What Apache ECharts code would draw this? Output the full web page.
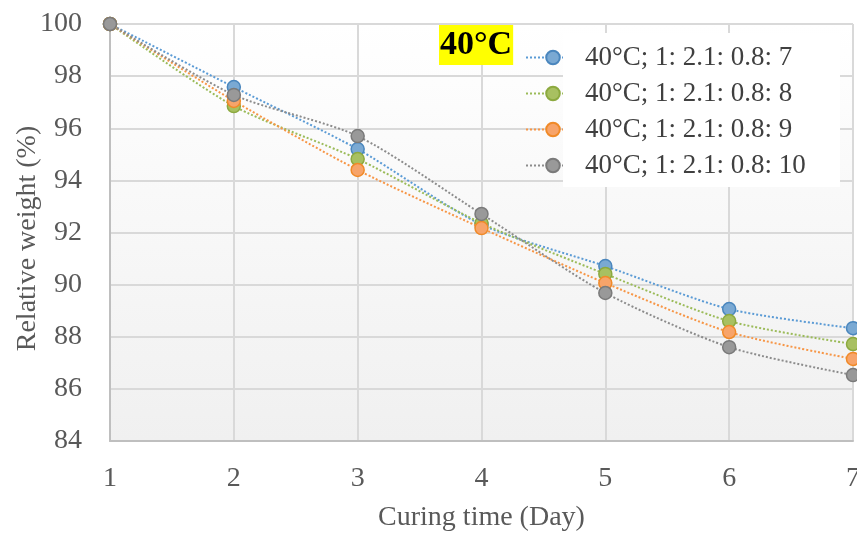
<!DOCTYPE html>
<html>
<head>
<meta charset="utf-8">
<script src="https://cdn.jsdelivr.net/npm/echarts@6/dist/echarts.min.js"></script>
<style>
  html, body { margin: 0; padding: 0; background: #fff; }
  #chart { width: 857px; height: 533px; }
</style>
</head>
<body>
<div id="chart"></div>
<script>
// Curing days on the x axis
const days = [1, 2, 3, 4, 5, 6, 7];

// Relative weight (%) per mix ratio at 40°C
const seriesNames = [
  '40°C; 1: 2.1: 0.8: 7',
  '40°C; 1: 2.1: 0.8: 8',
  '40°C; 1: 2.1: 0.8: 9',
  '40°C; 1: 2.1: 0.8: 10'
];
const ratio7  = [100, 97.58, 95.20, 92.30, 90.71, 89.06, 88.33];
const ratio8  = [100, 96.85, 94.82, 92.36, 90.41, 88.60, 87.72];
const ratio9  = [100, 97.05, 94.40, 92.17, 90.06, 88.18, 87.15];
const ratio10 = [100, 97.28, 95.70, 92.71, 89.68, 87.60, 86.53];

const yTicks = [84, 86, 88, 90, 92, 94, 96, 98, 100];

const serif = '"Liberation Serif", "DejaVu Serif", serif';
const styles = [
  { line: '#5b9bd5', fill: '#7aa9d3', border: '#4a86bd' },
  { line: '#9bbb59', fill: '#a8c061', border: '#8ca93f' },
  { line: '#f79646', fill: '#f7a46a', border: '#f08a28' },
  { line: '#8c8c8c', fill: '#999999', border: '#7a7a7a' }
];
const values = [ratio7, ratio8, ratio9, ratio10];

const chart = echarts.init(document.getElementById('chart'), null, { renderer: 'canvas' });

const series = seriesNames.map((name, i) => ({
  name,
  type: 'line',
  smooth: 0.25,
  data: days.map((d, j) => [d, values[i][j]]),
  symbol: 'circle',
  symbolSize: 13,
  z: 3 + i,
  lineStyle: { color: styles[i].line, width: 2, type: [2, 2] },
  itemStyle: { color: styles[i].fill, borderColor: styles[i].border, borderWidth: 1.5 }
}));

chart.setOption({
  animation: false,
  backgroundColor: '#ffffff',
  title: {
    text: '40°C',
    left: 439,
    top: 25,
    padding: [0, 1, 0, 1],
    backgroundColor: '#ffff00',
    textStyle: { fontFamily: serif, fontWeight: 'bold', fontSize: 34, color: '#000', lineHeight: 40 }
  },
  grid: {
    left: 110, right: 4, top: 24, bottom: 92,
    outerBoundsMode: 'none',
    show: true,
    borderWidth: 0,
    backgroundColor: new echarts.graphic.LinearGradient(0, 0, 0, 1, [
      { offset: 0, color: '#ffffff' },
      { offset: 1, color: '#f0f0f0' }
    ])
  },
  legend: {
    orient: 'vertical',
    left: 525,
    top: 44,
    padding: 0,
    z: 10,
    itemWidth: 54,
    itemHeight: 17,
    itemGap: 9,
    data: seriesNames,
    textStyle: { fontFamily: serif, fontSize: 27, color: '#404040', lineHeight: 27 }
  },
  xAxis: {
    type: 'value',
    min: 1, max: 7, interval: 1,
    name: 'Curing time (Day)',
    nameLocation: 'middle',
    nameGap: 63,
    nameMoveOverlap: false,
    nameTextStyle: { fontFamily: serif, fontSize: 28, color: '#595959' },
    axisLine: { lineStyle: { color: '#bfbfbf', width: 2 } },
    axisTick: { show: false },
    axisLabel: { fontFamily: serif, fontSize: 28, color: '#595959', margin: 24 },
    splitLine: { show: true, lineStyle: { color: '#d9d9d9', width: 2 } }
  },
  yAxis: {
    type: 'value',
    min: yTicks[0], max: yTicks[yTicks.length - 1], interval: 2,
    name: 'Relative weight (%)',
    nameLocation: 'middle',
    nameGap: 68,
    nameMoveOverlap: false,
    nameTextStyle: { fontFamily: serif, fontSize: 28, color: '#595959', padding: [0, 12, 0, 0] },
    axisLine: { show: true, lineStyle: { color: '#bfbfbf', width: 2 } },
    axisTick: { show: false },
    axisLabel: { fontFamily: serif, fontSize: 28, color: '#595959', margin: 28 },
    splitLine: { show: true, lineStyle: { color: '#d9d9d9', width: 2 } }
  },
  graphic: [
    // legend panel behind the labels
    { type: 'rect', z: 1, shape: { x: 563, y: 33, width: 277, height: 154 }, style: { fill: '#ffffff' } },
    // trims the legend key lines at the panel edge
    { type: 'rect', z: 20, shape: { x: 563, y: 40, width: 17, height: 140 }, style: { fill: '#ffffff' } }
  ],
  series
});
</script>
</body>
</html>
